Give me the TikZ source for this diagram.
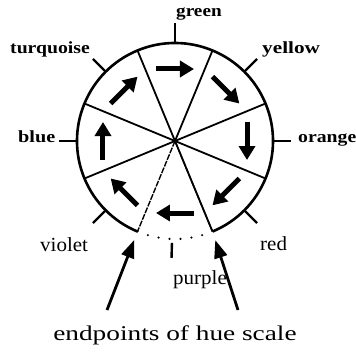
\documentclass[tikz,border=0pt]{standalone}
\usepackage{fontspec}
\setmainfont{Liberation Serif}
\usetikzlibrary{arrows.meta}
\newcommand{\hsc}[2]{\scalebox{#1}[1]{#2}}
\begin{document}
\begin{tikzpicture}[x=1pt,y=1pt,
  rim/.style={line width=2.6pt},
  spoke/.style={line width=1.8pt},
  dspoke/.style={line width=1.4pt, dash pattern=on 6pt off 1.2pt},
  tickmark/.style={line width=2.4pt},
  dotarc/.style={line width=2.4pt, line cap=round, dash pattern=on 0pt off 11pt},
  blk/.style={line width=5pt, -{Triangle[length=14pt,width=16pt]}},
  ptr/.style={line width=2.8pt, -{Triangle[length=18pt,width=13pt]}, shorten >=9pt},
  bl/.style={inner sep=0pt, anchor=base west, font=\fontsize{17}{17}\selectfont\bfseries},
  rl/.style={inner sep=0pt, anchor=base west, font=\fontsize{20}{20}\selectfont},
]
\useasboundingbox (-175,-210) rectangle (181,141);
\coordinate (O) at (0,0);
\coordinate (eL) at (247.5:98);
\coordinate (eR) at (292.5:98);
% spokes
\foreach \a in {-67.5,-22.5,22.5,67.5,112.5,157.5,202.5} \draw[spoke] (O) -- (\a:98);
\draw[dspoke] (O) -- (eL);
\draw[dspoke] (O) -- (eR);
% rim
\draw[rim] (eR) arc[start angle=-67.5, end angle=247.5, radius=98];
\draw[dotarc] (eL) arc[start angle=247.5, end angle=292.5, radius=98];
% ticks
\foreach \a in {0,45,135,180,225,315} \draw[tickmark] (\a:98) -- (\a:116);
\draw[tickmark] (90:98) -- (90:118);
\draw[tickmark] (-91.7:102) -- (-91.7:117);
% hue direction arrows
\foreach \a in {0,45,...,315}
  \draw[blk] ([shift={(\a+90:19)}]\a:72) -- ([shift={(\a-90:19)}]\a:72);
% labels
\node[bl] (green) at (1,124) {\hsc{1.13}{green}};
\node[bl] (turq) at (-165,88) {\hsc{1.16}{turquoise}};
\node[bl] (yellow) at (87,87) {\hsc{1.25}{yellow}};
\node[bl] (blue) at (-157,-1) {\hsc{1.19}{blue}};
\node[bl] (orange) at (123,-1) {\hsc{1.16}{orange}};
\node[rl] (violet) at (-135,-110) {\hsc{1.05}{violet}};
\node[rl] (red) at (85,-109) {\hsc{1.05}{red}};
\node[rl] (purple) at (-2,-143) {\hsc{1.05}{purple}};
\node[inner sep=0pt, anchor=base, font=\fontsize{21}{21}\selectfont] (cap) at (0,-199) {\hsc{1.3}{endpoints of hue scale}};
% endpoint pointers
\coordinate (tL) at (-68,-169);
\coordinate (tR) at (63,-169);
\draw[ptr] (tL) -- (eL);
\draw[ptr] (tR) -- (eR);
\end{tikzpicture}
\end{document}
